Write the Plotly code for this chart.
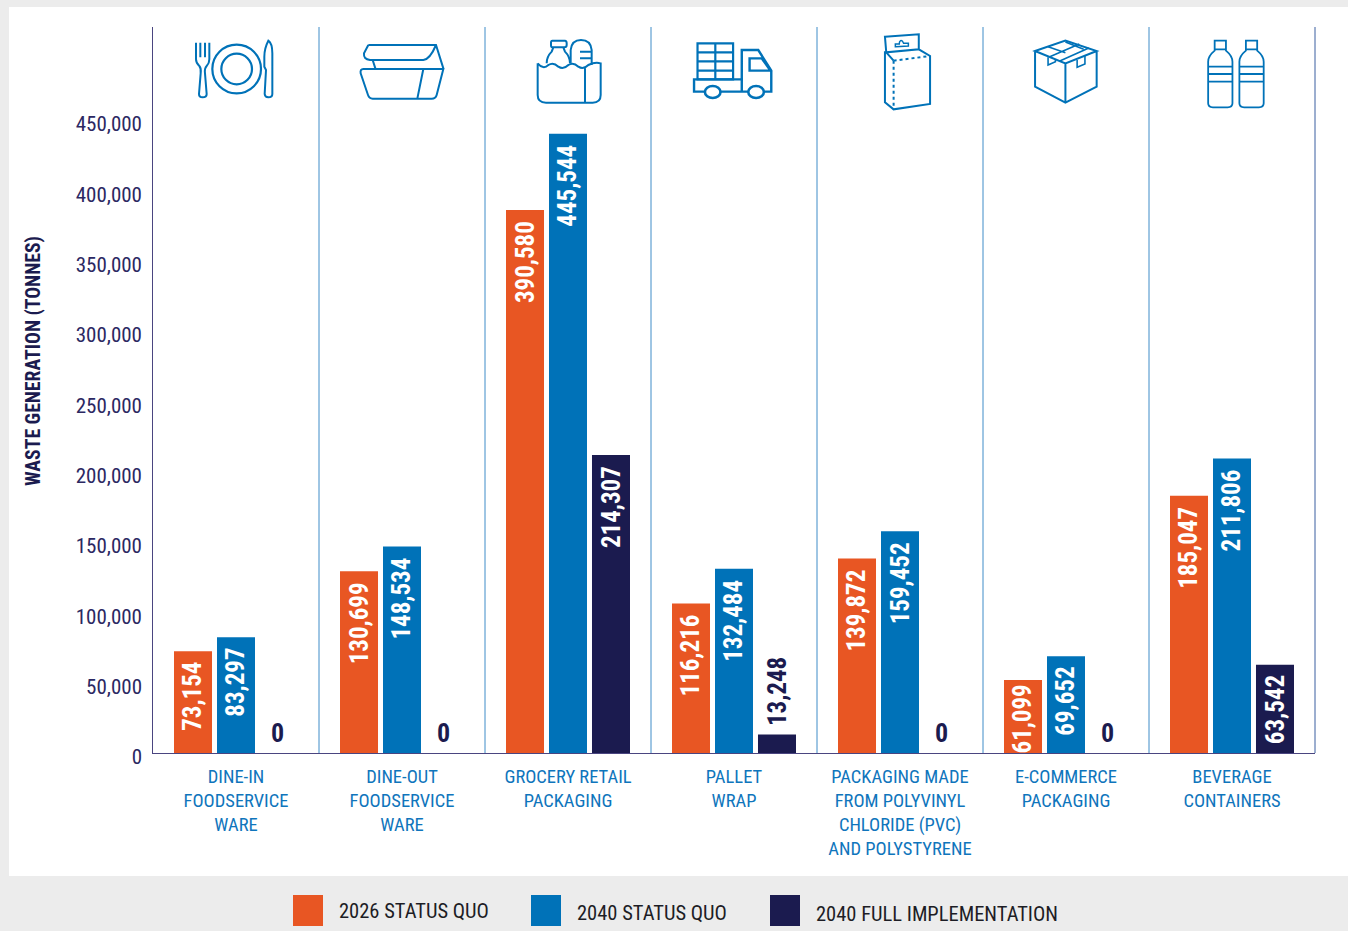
import re
import plotly.graph_objects as go

categories = ["DINE-IN<br>FOODSERVICE<br>WARE", "DINE-OUT<br>FOODSERVICE<br>WARE",
              "GROCERY RETAIL<br>PACKAGING", "PALLET<br>WRAP",
              "PACKAGING MADE<br>FROM POLYVINYL<br>CHLORIDE (PVC)<br>AND POLYSTYRENE",
              "E-COMMERCE<br>PACKAGING", "BEVERAGE<br>CONTAINERS"]
series_names = ["2026 STATUS QUO", "2040 STATUS QUO", "2040 FULL IMPLEMENTATION"]
# printed values
labels_2026 = [73154, 130699, 390580, 116216, 139872, 61099, 185047]
labels_2040 = [83297, 148534, 445544, 132484, 159452, 69652, 211806]
labels_full = [0, 0, 214307, 13248, 0, 0, 63542]
# drawn bar lengths (two bars are drawn shorter than printed)
bars_2026 = [73154, 130699, 390580, 107500, 139872, 52500, 185047]
bars_2040 = labels_2040
bars_full = labels_full
tick_vals = [0, 50000, 100000, 150000, 200000, 250000, 300000, 350000, 400000, 450000]
colors = ["#E85623", "#0072B8", "#1B1B4F"]
NAVY, TICK, CAT, SEP = "#1B1B4F", "#2B2862", "#0F75BC", "#3F8CC8"
FONT = "Roboto Condensed, Roboto, sans-serif"

W, H = 1348, 931
L, R, T, B = 153, 1315, 27, 760
AXIS_Y = 753
fx = lambda p: (p - L) / (R - L)
fy = lambda p: (B - p) / (B - T)

fig = go.Figure()
for name, vals, col in zip(series_names, [bars_2026, bars_2040, bars_full], colors):
    fig.add_bar(x=categories, y=vals, name=name, marker_color=col, marker_line_width=0,
                showlegend=False, hoverinfo="x+y")
fig.add_scatter(x=[categories[0]], y=[0], yaxis="y2", mode="markers",
                marker=dict(opacity=0), showlegend=False, hoverinfo="skip")

ann, shapes = [], []
for j, (labs, bars) in enumerate(zip([labels_2026, labels_2040, labels_full],
                                     [bars_2026, bars_2040, bars_full])):
    for i, (lab, v) in enumerate(zip(labs, bars)):
        dx = (j - 1) * 43
        if lab == 0:
            ann.append(dict(x=i, y=0, xref="x", yref="y", text="<b>0</b>", showarrow=False,
                            xshift=dx - 2, yanchor="bottom", yshift=3,
                            font=dict(family=FONT, size=26, color=NAVY)))
        elif lab < 20000:
            ann.append(dict(x=i, y=v, xref="x", yref="y", text=f"<b>{lab:,}</b>", showarrow=False,
                            xshift=dx, yanchor="bottom", yshift=6, textangle=-90,
                            font=dict(family=FONT, size=25, color=NAVY)))
        else:
            ann.append(dict(x=i, y=v, xref="x", yref="y", text=f"<b>{lab:,}</b>", showarrow=False,
                            xshift=dx, yanchor="top", yshift=-3 if v < 60000 else -9, textangle=-90,
                            font=dict(family=FONT, size=25, color="white")))

ann.append(dict(x=fx(33), y=fy(361), xref="paper", yref="paper", text="<b>WASTE GENERATION (TONNES)</b>",
                showarrow=False, textangle=-90, xanchor="center", yanchor="middle",
                font=dict(family=FONT, size=19.7, color=NAVY)))

# panel
shapes.append(dict(type="rect", xref="paper", yref="paper", layer="below", line_width=0,
                   fillcolor="white", x0=fx(9), x1=fx(1348), y0=fy(876), y1=fy(7)))
# right edge
shapes.append(dict(type="line", xref="paper", yref="paper", x0=1, x1=1, y0=fy(AXIS_Y), y1=1,
                   line=dict(color="#3A5FA0", width=1)))
# separators between categories
for i in range(6):
    shapes.append(dict(type="line", xref="x", yref="paper", x0=i + 0.5, x1=i + 0.5, y0=fy(AXIS_Y), y1=1,
                       line=dict(color=SEP, width=1)))
# legend
legend_pos = [(293, 337, 911), (531, 575, 913), (770, 814, 914)]
for (sx, tx, ty), name, col in zip(legend_pos, series_names, colors):
    shapes.append(dict(type="rect", xref="paper", yref="paper", line_width=0, fillcolor=col,
                       x0=fx(sx), x1=fx(sx + 30), y0=fy(926), y1=fy(895)))
    ann.append(dict(x=fx(tx), y=fy(ty), xref="paper", yref="paper", text=name, showarrow=False,
                    xanchor="left", yanchor="middle", font=dict(family=FONT, size=20.5, color="#1d1d25")))

# pictograms, traced in zoomed-crop coordinates
def conv(path, ox, oy, sx, sy):
    def rep(m):
        x, y = float(m.group(1)), float(m.group(2))
        return f"{fx(ox + x / sx):.5f},{fy(oy + y / sy):.5f}"
    return re.sub(r"(-?[\d.]+),(-?[\d.]+)", rep, path)

def icon(path, ox, oy, sx, sy, width=2.0, dash=None):
    line = dict(color="#0072B8", width=width)
    if dash:
        line["dash"] = dash
    shapes.append(dict(type="path", xref="paper", yref="paper", path=conv(path, ox, oy, sx, sy), line=line))

def ring(cx, cy, r, ox, oy, sx, sy, width=2.0):
    shapes.append(dict(type="circle", xref="paper", yref="paper",
                       x0=fx(ox + (cx - r) / sx), x1=fx(ox + (cx + r) / sx),
                       y0=fy(oy + (cy + r) / sy), y1=fy(oy + (cy - r) / sy),
                       line=dict(color="#0072B8", width=width), fillcolor="white"))

O1 = (150, 20, 3, 3)
O2 = (649.8, 20, 2.305, 3)
# plate, fork, knife
ring(260, 147, 73, *O1, 2.2); ring(260, 147, 46, *O1, 2.2)
icon("M138,68 L138,118 Q138,130 148,138 Q154,145 152,160 L147,222 Q147,232 158,232 Q170,232 170,222 L165,160 Q163,145 170,138 Q178,130 178,118 L178,68 M151,68 L151,112 M165,68 L165,112", *O1)
icon("M355,62 Q343,85 343,110 L343,140 L348,150 L344,222 Q345,232 355,232 Q367,232 367,222 L367,100 Q367,70 355,62 Z", *O1)
# food box
icon("M655,75 L858,75 L880,145 M655,75 L642,100 Q640,118 660,120 L820,120 Q840,118 858,75 M668,120 L676,145", *O1)
icon("M640,147 L880,147 L860,225 Q857,236 845,236 L668,236 Q658,236 654,225 L632,160 Q630,147 640,147 Z M820,147 L802,236", *O1)
# grocery bag
icon("M1163,130 L1163,225 Q1163,248 1188,248 L1328,248 Q1352,248 1352,225 L1352,130 Q1335,125 1315,135 Q1300,150 1285,140 Q1270,125 1255,135 Q1240,150 1225,140 Q1210,125 1195,135 Q1180,150 1163,130 M1305,140 L1305,248", *O1)
icon("M1190,130 Q1190,110 1205,95 L1210,82 M1240,82 L1245,95 Q1260,110 1260,130 M1207,62 L1245,62 Q1250,62 1250,70 L1250,75 Q1250,82 1243,82 L1207,82 Q1203,82 1203,75 L1203,68 Q1203,62 1207,62 Z", *O1)
icon("M1262,130 L1262,90 Q1265,60 1293,60 Q1322,60 1325,90 L1325,135 M1290,95 L1325,95 M1290,115 L1325,115", *O1)
# truck
icon("M110,70 L192,70 L192,178 L110,178 Z M110,97 L192,97 M110,124 L192,124 M110,152 L192,152 M151,70 L151,178", *O2, 2.2)
icon("M128,215 L102,215 L102,178 L212,178 M162,215 L228,215 M262,215 L280,215 L280,152 L250,90 L212,90 L212,215 M230,115 L258,115 L278,152 L230,152 Z", *O2, 2.4)
ring(145, 216, 18, *O2, 2.6); ring(245, 216, 18, *O2, 2.6)
# hang-tab box
icon("M542,50 L620,43 L620,88 L545,97 L542,50 Z M545,97 L620,88 L646,108 L646,252 L562,268 L542,247 L542,97 Z M545,97 L562,122", *O2)
icon("M566,80 L596,78 L596,70 L585,70 Q582,60 578,62 Q575,64 575,72 L566,72 Z", *O2, 1.5)
icon("M562,122 L646,108 M562,122 L562,268", *O2, 2.0, "3px,3px")
# carton
icon("M888,93 L958,62 L1030,93 L958,130 Z M888,93 L888,200 L958,248 L1030,200 L1030,93 M958,130 L958,248", *O2)
icon("M922,110 L990,72 M945,123 L1012,84 M918,80 L958,98 M958,66 L1000,88 M918,112 L918,135 L935,125 L935,118 M985,120 L985,142 L1003,132 L1003,105", *O2, 1.6)
# bottles
for dx in (0, 72):
    icon(f"M{1302+dx},62 L{1328+dx},62 L{1328+dx},88 L{1302+dx},88 Z "
         f"M{1302+dx},88 L{1302+dx},92 Q{1287+dx},108 {1287+dx},125 L{1287+dx},250 Q{1287+dx},262 {1298+dx},262 "
         f"L{1332+dx},262 Q{1343+dx},262 {1343+dx},250 L{1343+dx},125 Q{1343+dx},108 {1328+dx},92 L{1328+dx},88 "
         f"M{1287+dx},140 L{1343+dx},140 M{1287+dx},162 L{1343+dx},162 M{1287+dx},185 L{1343+dx},185", *O2, 1.8)

fig.update_layout(
    width=W, height=H, margin=dict(l=L, r=W - R, t=T, b=H - B, pad=0),
    paper_bgcolor="#ECECEC", plot_bgcolor="rgba(0,0,0,0)",
    barmode="group", bargap=0.223, bargroupgap=0.116,
    annotations=ann, shapes=shapes, showlegend=False,
    font=dict(family=FONT),
    xaxis=dict(type="category", range=[-0.5, 6.5], showgrid=False, ticks="", showline=True,
               linecolor="#4A4580", linewidth=1, ticklabelstandoff=7,
               tickfont=dict(family=FONT, size=18.5, color=CAT), anchor="y", tickangle=0),
    yaxis=dict(domain=[fy(AXIS_Y), 1], range=[0, (AXIS_Y - T) / 1.39 * 1000], showgrid=False,
               zeroline=False, showline=True, linecolor="#4A4580", linewidth=1, showticklabels=False,
               ticks=""),
    yaxis2=dict(side="left", domain=[0, 1], anchor="x",
                range=[(757 - B) / 1.40667 * 1000, (757 - T) / 1.40667 * 1000],
                tickmode="array", tickvals=tick_vals, ticktext=[f"{v:,}" for v in tick_vals],
                showgrid=False, zeroline=False, showline=False, ticks="", ticklabelstandoff=10,
                tickfont=dict(family=FONT, size=21, color=TICK)),
)
fig.write_html("out.html", config=dict(displayModeBar=False),
               post_script="document.body.style.margin='0';document.documentElement.style.overflow='hidden';")
